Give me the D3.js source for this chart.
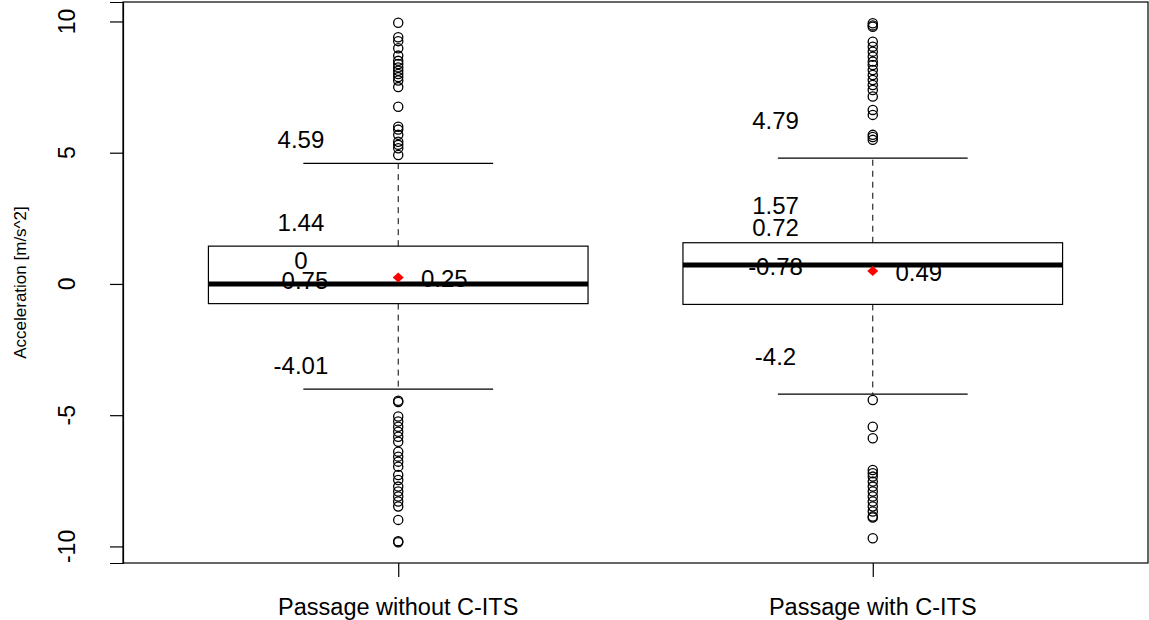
<!DOCTYPE html>
<html>
<head>
<meta charset="utf-8">
<script src="https://cdn.jsdelivr.net/npm/d3@7"></script>
<style>
  body { margin: 0; background: #fff; }
  text { font-family: "Liberation Sans", Arial, sans-serif; fill: #000; }
</style>
</head>
<body>
<svg id="chart"></svg>
<script>
// data
const groups = ["Passage without C-ITS", "Passage with C-ITS"];
const whiskerLow = [-4.01, -4.2];
const q1 = [-0.75, -0.78];
const median = [0, 0.72];
const q3 = [1.44, 1.57];
const whiskerHigh = [4.59, 4.79];
const means = [0.25, 0.49];
const outliers = [
  [9.95, 9.40, 9.25, 8.98, 8.70, 8.50, 8.38, 8.25, 8.12, 8.00, 7.88, 7.75, 7.50, 6.75,
   5.99, 5.88, 5.68, 5.42, 5.30, 5.17, 4.91,
   -4.45, -4.50, -5.05, -5.24, -5.44, -5.63, -5.82, -6.01, -6.39, -6.58, -6.77, -6.96,
   -7.28, -7.47, -7.72, -7.91, -8.10, -8.29, -8.48, -8.99, -9.80, -9.84],
  [9.93, 9.85, 9.80, 9.23, 9.04, 8.85, 8.66, 8.47, 8.34, 8.15, 7.96, 7.77, 7.58, 7.39,
   7.14, 6.63, 6.44, 5.68, 5.60, 5.49,
   -4.42, -5.44, -5.88, -7.09, -7.21, -7.34, -7.53, -7.72, -7.91, -8.10, -8.29, -8.48,
   -8.67, -8.86, -8.90, -9.69]
];
const yTicks = [-10, -5, 0, 5, 10];

const width = 1149;
const height = 620;
const margin = { top: 2, right: 1, bottom: 57, left: 123 };

// label lift above each stat line, per group (px)
const labelLift = [15, 29];

const svg = d3.select("#chart")
  .attr("width", width)
  .attr("height", height);

// R style 4% padding on the data range
const all = outliers.flat();
const lo = d3.min(all), hi = d3.max(all);
const pad = 0.04 * (hi - lo);

const x = d3.scaleLinear()
  .domain([0.42, groups.length + 0.58])
  .range([margin.left, width - margin.right]);
const y = d3.scaleLinear()
  .domain([lo - pad, hi + pad])
  .range([height - margin.bottom, margin.top]);

const boxW = x(0.8) - x(0);

// frame
svg.append("rect")
  .attr("x", margin.left)
  .attr("y", margin.top)
  .attr("width", width - margin.right - margin.left)
  .attr("height", height - margin.bottom - margin.top)
  .attr("fill", "none")
  .attr("stroke", "#000")
  .attr("stroke-width", 1.2);

// y axis
const yAxis = svg.append("g")
  .attr("transform", `translate(${margin.left},0)`)
  .call(d3.axisLeft(y).tickValues(yTicks).tickSize(13).tickFormat(""));
yAxis.select(".domain").attr("stroke-width", 1.2);
yAxis.selectAll(".tick line").attr("stroke-width", 1.2);

svg.selectAll(".ytick")
  .data(yTicks)
  .join("text")
  .attr("class", "ytick")
  .attr("transform", d => `translate(75,${y(d)}) rotate(-90)`)
  .attr("text-anchor", "middle")
  .style("font-size", "23px")
  .text(d => d);

svg.append("text")
  .attr("transform", `translate(26,${(margin.top + height - margin.bottom) / 2}) rotate(-90)`)
  .attr("text-anchor", "middle")
  .style("font-size", "17px")
  .text("Acceleration [m/s^2]");

// x axis
const xAxis = svg.append("g")
  .attr("transform", `translate(0,${height - margin.bottom})`)
  .call(d3.axisBottom(x).tickValues([1, 2]).tickSize(14).tickFormat(""));
xAxis.select(".domain").remove();
xAxis.selectAll(".tick line").attr("stroke-width", 1.2);

svg.selectAll(".xlab")
  .data(groups)
  .join("text")
  .attr("class", "xlab")
  .attr("x", (d, i) => x(i + 1))
  .attr("y", 615)
  .attr("text-anchor", "middle")
  .style("font-size", "23.5px")
  .text(d => d);

// boxes
const idx = d3.range(groups.length);
const g = svg.append("g");

// whiskers
g.selectAll(".wlow")
  .data(idx)
  .join("line")
  .attr("x1", i => x(i + 1)).attr("x2", i => x(i + 1))
  .attr("y1", i => y(q1[i])).attr("y2", i => y(whiskerLow[i]))
  .attr("stroke", "#000").attr("stroke-dasharray", "6,5");
g.selectAll(".whigh")
  .data(idx)
  .join("line")
  .attr("x1", i => x(i + 1)).attr("x2", i => x(i + 1))
  .attr("y1", i => y(q3[i])).attr("y2", i => y(whiskerHigh[i]))
  .attr("stroke", "#000").attr("stroke-dasharray", "6,5");

// staples
[whiskerLow, whiskerHigh].forEach(arr => {
  g.selectAll(null)
    .data(idx)
    .join("line")
    .attr("x1", i => x(i + 1) - boxW / 4)
    .attr("x2", i => x(i + 1) + boxW / 4)
    .attr("y1", i => y(arr[i])).attr("y2", i => y(arr[i]))
    .attr("stroke", "#000").attr("stroke-width", 1.2);
});

g.selectAll(".box")
  .data(idx)
  .join("rect")
  .attr("x", i => x(i + 1) - boxW / 2)
  .attr("y", i => y(q3[i]))
  .attr("width", boxW)
  .attr("height", i => y(q1[i]) - y(q3[i]))
  .attr("fill", "#fff")
  .attr("stroke", "#000")
  .attr("stroke-width", 1.2);

g.selectAll(".med")
  .data(idx)
  .join("line")
  .attr("x1", i => x(i + 1) - boxW / 2)
  .attr("x2", i => x(i + 1) + boxW / 2)
  .attr("y1", i => y(median[i])).attr("y2", i => y(median[i]))
  .attr("stroke", "#000").attr("stroke-width", 5);

// outliers
idx.forEach(i => {
  g.selectAll(null)
    .data(outliers[i])
    .join("circle")
    .attr("cx", x(i + 1))
    .attr("cy", d => y(d))
    .attr("r", 4.6)
    .attr("fill", "none")
    .attr("stroke", "#000")
    .attr("stroke-width", 1.3);
});

// stat labels
idx.forEach(i => {
  const vals = [whiskerLow[i], q1[i], median[i], q3[i], whiskerHigh[i]];
  g.selectAll(null)
    .data(vals)
    .join("text")
    .attr("x", x(i + 1 - 0.205))
    .attr("y", d => y(d) - labelLift[i])
    .attr("text-anchor", "middle")
    .style("font-size", "24px")
    .text(d => String(d));
});

// means
g.selectAll(".mean")
  .data(idx)
  .join("path")
  .attr("d", i => {
    const cx = x(i + 1), cy = y(means[i]);
    return `M${cx},${cy - 5}L${cx + 5.5},${cy}L${cx},${cy + 5}L${cx - 5.5},${cy}Z`;
  })
  .attr("fill", "#ff0000");

g.selectAll(".meanlab")
  .data(idx)
  .join("text")
  .attr("x", i => x(i + 1.097))
  .attr("y", i => y(means[i]) + 9.5)
  .attr("text-anchor", "middle")
  .style("font-size", "24px")
  .text(i => String(means[i]));
</script>
</body>
</html>
